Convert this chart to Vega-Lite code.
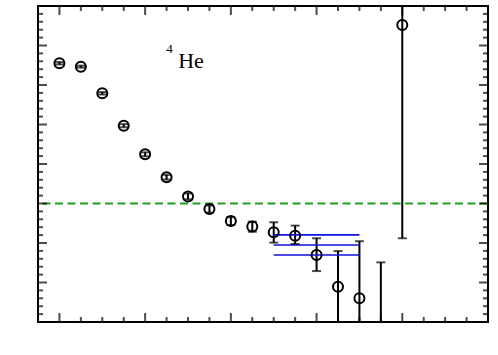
{
  "$schema": "https://vega.github.io/schema/vega-lite/v6.json",
  "width": 450,
  "height": 316,
  "autosize": {"type": "none"},
  "padding": {"left": 38, "top": 6, "right": 10, "bottom": 33},
  "background": "white",
  "datasets": {
    "pts": [
      {"t": 0, "y": 0.0710, "lo": 0.0704, "hi": 0.0716},
      {"t": 1, "y": 0.0693, "lo": 0.0688, "hi": 0.0698},
      {"t": 2, "y": 0.0558, "lo": 0.0552, "hi": 0.0564},
      {"t": 3, "y": 0.0394, "lo": 0.0386, "hi": 0.0402},
      {"t": 4, "y": 0.0249, "lo": 0.0239, "hi": 0.0259},
      {"t": 5, "y": 0.0133, "lo": 0.0121, "hi": 0.0145},
      {"t": 6, "y": 0.0036, "lo": 0.0021, "hi": 0.0051},
      {"t": 7, "y": -0.0028, "lo": -0.0046, "hi": -0.0010},
      {"t": 8, "y": -0.0089, "lo": -0.0109, "hi": -0.0069},
      {"t": 9, "y": -0.0117, "lo": -0.0143, "hi": -0.0092},
      {"t": 10, "y": -0.0146, "lo": -0.0198, "hi": -0.0095},
      {"t": 11, "y": -0.0163, "lo": -0.0205, "hi": -0.0112},
      {"t": 12, "y": -0.0261, "lo": -0.0342, "hi": -0.0176},
      {"t": 13, "y": -0.0421, "lo": -0.0601, "hi": -0.0241},
      {"t": 14, "y": -0.0480, "lo": -0.0769, "hi": -0.0191},
      {"t": 15, "y": -0.0850, "lo": -0.1400, "hi": -0.0298},
      {"t": 16, "y": 0.0904, "lo": -0.0176, "hi": 0.1980}
    ],
    "fits": [
      {"t1": 10, "t2": 14, "v": -0.0159},
      {"t1": 10, "t2": 14, "v": -0.0210},
      {"t1": 10, "t2": 14, "v": -0.0261}
    ],
    "labels": [
      {"t": 5.54, "v": 0.0686, "txt": "He", "fs": 22},
      {"t": 4.99, "v": 0.0764, "txt": "4", "fs": 13}
    ],
    "xmaj": [
      {"t": 0, "v": -0.06}, {"t": 4, "v": -0.06}, {"t": 8, "v": -0.06}, {"t": 12, "v": -0.06}, {"t": 16, "v": -0.06},
      {"t": 0, "v": 0.1}, {"t": 4, "v": 0.1}, {"t": 8, "v": 0.1}, {"t": 12, "v": 0.1}, {"t": 16, "v": 0.1}
    ],
    "xmin": [
      {"t": 1, "v": -0.06}, {"t": 2, "v": -0.06}, {"t": 3, "v": -0.06}, {"t": 5, "v": -0.06}, {"t": 6, "v": -0.06}, {"t": 7, "v": -0.06}, {"t": 9, "v": -0.06}, {"t": 10, "v": -0.06}, {"t": 11, "v": -0.06}, {"t": 13, "v": -0.06}, {"t": 14, "v": -0.06}, {"t": 15, "v": -0.06}, {"t": 17, "v": -0.06}, {"t": 18, "v": -0.06}, {"t": 19, "v": -0.06},
      {"t": 1, "v": 0.1}, {"t": 2, "v": 0.1}, {"t": 3, "v": 0.1}, {"t": 5, "v": 0.1}, {"t": 6, "v": 0.1}, {"t": 7, "v": 0.1}, {"t": 9, "v": 0.1}, {"t": 10, "v": 0.1}, {"t": 11, "v": 0.1}, {"t": 13, "v": 0.1}, {"t": 14, "v": 0.1}, {"t": 15, "v": 0.1}, {"t": 17, "v": 0.1}, {"t": 18, "v": 0.1}, {"t": 19, "v": 0.1}
    ],
    "ymaj": [
      {"t": -1, "v": -0.04}, {"t": -1, "v": -0.02}, {"t": -1, "v": 0}, {"t": -1, "v": 0.02}, {"t": -1, "v": 0.04}, {"t": -1, "v": 0.06}, {"t": -1, "v": 0.08},
      {"t": 20, "v": -0.04}, {"t": 20, "v": -0.02}, {"t": 20, "v": 0}, {"t": 20, "v": 0.02}, {"t": 20, "v": 0.04}, {"t": 20, "v": 0.06}, {"t": 20, "v": 0.08}
    ],
    "ymin": [
      {"t": -1, "v": -0.056}, {"t": -1, "v": -0.052}, {"t": -1, "v": -0.048}, {"t": -1, "v": -0.044}, {"t": -1, "v": -0.036}, {"t": -1, "v": -0.032}, {"t": -1, "v": -0.028}, {"t": -1, "v": -0.024}, {"t": -1, "v": -0.016}, {"t": -1, "v": -0.012}, {"t": -1, "v": -0.008}, {"t": -1, "v": -0.004}, {"t": -1, "v": 0.004}, {"t": -1, "v": 0.008}, {"t": -1, "v": 0.012}, {"t": -1, "v": 0.016}, {"t": -1, "v": 0.024}, {"t": -1, "v": 0.028}, {"t": -1, "v": 0.032}, {"t": -1, "v": 0.036}, {"t": -1, "v": 0.044}, {"t": -1, "v": 0.048}, {"t": -1, "v": 0.052}, {"t": -1, "v": 0.056}, {"t": -1, "v": 0.064}, {"t": -1, "v": 0.068}, {"t": -1, "v": 0.072}, {"t": -1, "v": 0.076}, {"t": -1, "v": 0.084}, {"t": -1, "v": 0.088}, {"t": -1, "v": 0.092}, {"t": -1, "v": 0.096},
      {"t": 20, "v": -0.056}, {"t": 20, "v": -0.052}, {"t": 20, "v": -0.048}, {"t": 20, "v": -0.044}, {"t": 20, "v": -0.036}, {"t": 20, "v": -0.032}, {"t": 20, "v": -0.028}, {"t": 20, "v": -0.024}, {"t": 20, "v": -0.016}, {"t": 20, "v": -0.012}, {"t": 20, "v": -0.008}, {"t": 20, "v": -0.004}, {"t": 20, "v": 0.004}, {"t": 20, "v": 0.008}, {"t": 20, "v": 0.012}, {"t": 20, "v": 0.016}, {"t": 20, "v": 0.024}, {"t": 20, "v": 0.028}, {"t": 20, "v": 0.032}, {"t": 20, "v": 0.036}, {"t": 20, "v": 0.044}, {"t": 20, "v": 0.048}, {"t": 20, "v": 0.052}, {"t": 20, "v": 0.056}, {"t": 20, "v": 0.064}, {"t": 20, "v": 0.068}, {"t": 20, "v": 0.072}, {"t": 20, "v": 0.076}, {"t": 20, "v": 0.084}, {"t": 20, "v": 0.088}, {"t": 20, "v": 0.092}, {"t": 20, "v": 0.096}
    ]
  },
  "layer": [
    {
      "data": {"name": "pts"},
      "mark": {"type": "rule", "color": "black", "strokeWidth": 2, "clip": true},
      "encoding": {
        "x": {"field": "t", "type": "quantitative",
          "scale": {"domain": [-1, 20], "nice": false, "zero": false},
          "axis": {"orient": "bottom", "values": [0, 4, 8, 12, 16, 20], "ticks": false, "labelPadding": 4, "title": "t", "titlePadding": -3}},
        "y": {"field": "lo", "type": "quantitative",
          "scale": {"domain": [-0.06, 0.1], "nice": false, "zero": false},
          "axis": {"orient": "left", "values": [-0.06, -0.04, -0.02, 0, 0.02, 0.04, 0.06, 0.08, 0.1], "ticks": false, "labelPadding": 4, "labelExpr": "datum.value + ''", "title": null}},
        "y2": {"field": "hi"}
      }
    },
    {
      "data": {"values": [{"z": 0}]},
      "mark": {"type": "rule", "color": "#1f9f1f", "strokeWidth": 2, "strokeDash": [8, 4.5]},
      "encoding": {
        "y": {"field": "z", "type": "quantitative", "axis": null}
      }
    },
    {
      "data": {"name": "fits"},
      "mark": {"type": "rule", "color": "#1010e0", "strokeWidth": 1.6},
      "encoding": {
        "x": {"field": "t1", "type": "quantitative", "axis": null},
        "x2": {"field": "t2"},
        "y": {"field": "v", "type": "quantitative", "axis": null}
      }
    },
    {
      "data": {"name": "pts"},
      "mark": {"type": "tick", "orient": "horizontal", "color": "black", "thickness": 2, "size": 9, "clip": true},
      "encoding": {
        "x": {"field": "t", "type": "quantitative", "axis": null},
        "y": {"field": "lo", "type": "quantitative", "axis": null}
      }
    },
    {
      "data": {"name": "pts"},
      "mark": {"type": "tick", "orient": "horizontal", "color": "black", "thickness": 2, "size": 9, "clip": true},
      "encoding": {
        "x": {"field": "t", "type": "quantitative", "axis": null},
        "y": {"field": "hi", "type": "quantitative", "axis": null}
      }
    },
    {
      "data": {"name": "pts"},
      "mark": {"type": "point", "shape": "circle", "filled": false, "color": "black", "opacity": 1, "strokeWidth": 2, "size": 100, "clip": true},
      "encoding": {
        "x": {"field": "t", "type": "quantitative", "axis": null},
        "y": {"field": "y", "type": "quantitative", "axis": null}
      }
    },
    {
      "data": {"name": "xmaj"},
      "mark": {"type": "tick", "orient": "vertical", "color": "black", "thickness": 2, "size": 18, "clip": true},
      "encoding": {"x": {"field": "t", "type": "quantitative", "axis": null}, "y": {"field": "v", "type": "quantitative", "axis": null}}
    },
    {
      "data": {"name": "xmin"},
      "mark": {"type": "tick", "orient": "vertical", "color": "black", "thickness": 2, "size": 10, "clip": true},
      "encoding": {"x": {"field": "t", "type": "quantitative", "axis": null}, "y": {"field": "v", "type": "quantitative", "axis": null}}
    },
    {
      "data": {"name": "ymaj"},
      "mark": {"type": "tick", "orient": "horizontal", "color": "black", "thickness": 2, "size": 18, "clip": true},
      "encoding": {"x": {"field": "t", "type": "quantitative", "axis": null}, "y": {"field": "v", "type": "quantitative", "axis": null}}
    },
    {
      "data": {"name": "ymin"},
      "mark": {"type": "tick", "orient": "horizontal", "color": "black", "thickness": 2, "size": 10, "clip": true},
      "encoding": {"x": {"field": "t", "type": "quantitative", "axis": null}, "y": {"field": "v", "type": "quantitative", "axis": null}}
    },
    {
      "data": {"name": "labels"},
      "mark": {"type": "text", "font": "Liberation Serif", "color": "black", "align": "left", "baseline": "alphabetic"},
      "encoding": {
        "x": {"field": "t", "type": "quantitative", "axis": null},
        "y": {"field": "v", "type": "quantitative", "axis": null},
        "text": {"field": "txt"},
        "size": {"field": "fs", "type": "quantitative", "scale": null, "legend": null}
      }
    }
  ],
  "config": {
    "view": {"stroke": "black", "strokeWidth": 2},
    "axis": {
      "domain": false,
      "grid": false,
      "labelColor": "black",
      "labelFont": "Liberation Serif",
      "labelFontSize": 15,
      "titleFont": "Liberation Serif",
      "titleFontSize": 15,
      "titleFontWeight": "normal",
      "titleColor": "black"
    }
  }
}
